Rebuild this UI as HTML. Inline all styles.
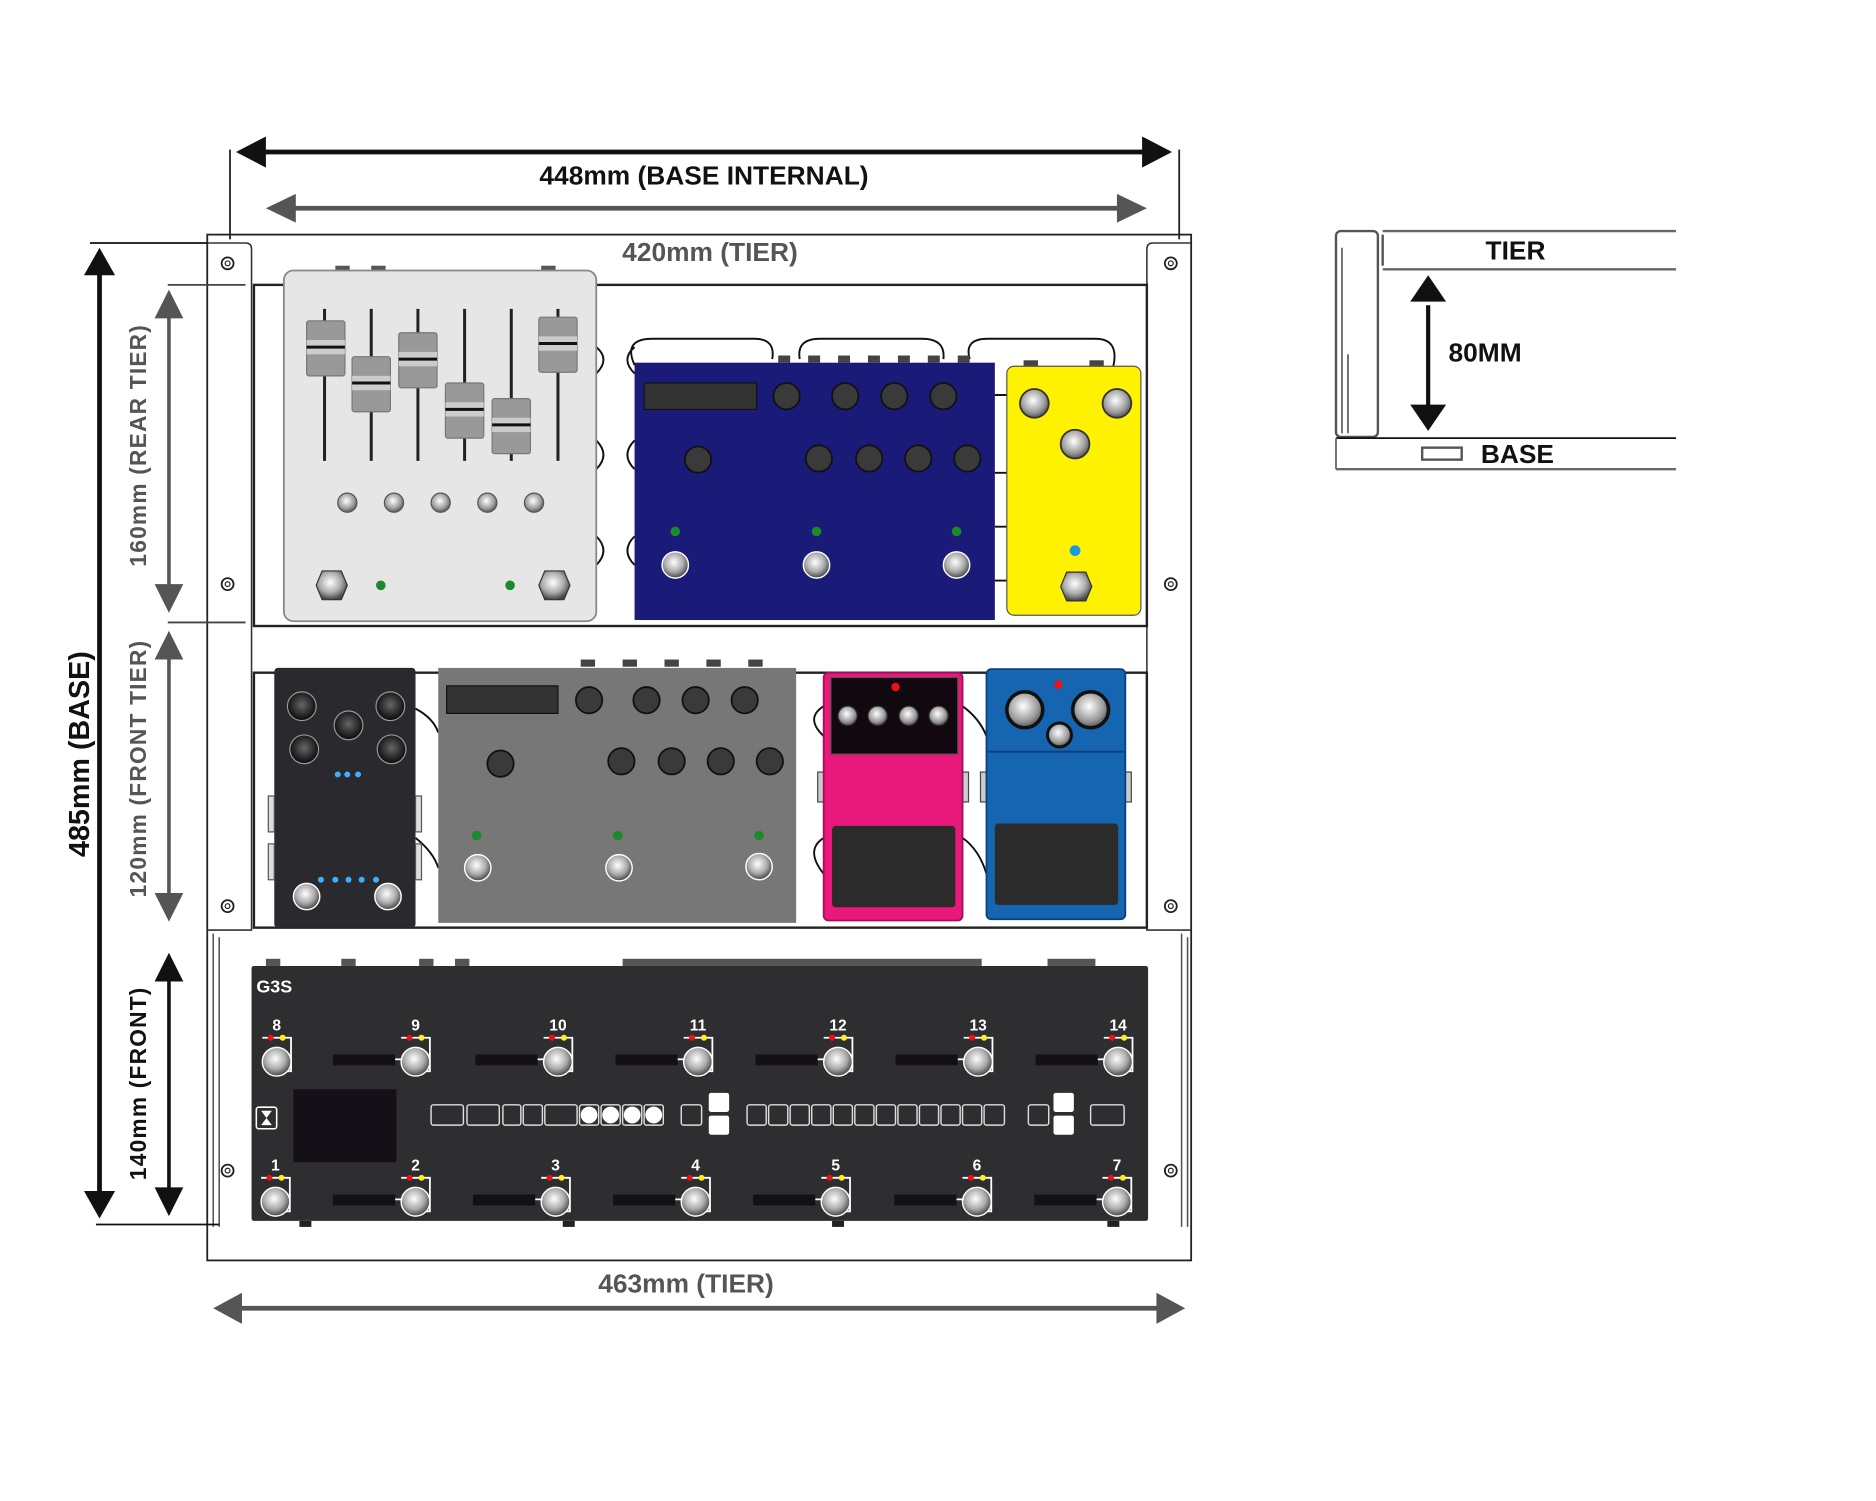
<!DOCTYPE html>
<html><head><meta charset="utf-8"><style>
html,body{margin:0;padding:0;background:#fff;}
svg{display:block;}
text{font-family:"Liberation Sans",sans-serif;font-weight:bold;}
</style></head><body>
<svg width="1876" height="1501" viewBox="0 0 1567 1254" xmlns="http://www.w3.org/2000/svg">
<defs>
<radialGradient id="fs" cx="0.45" cy="0.4" r="0.6"><stop offset="0" stop-color="#fff"/><stop offset="0.6" stop-color="#aaa"/><stop offset="1" stop-color="#444"/></radialGradient>
<radialGradient id="kb" cx="0.45" cy="0.4" r="0.6"><stop offset="0" stop-color="#fff"/><stop offset="0.7" stop-color="#999"/><stop offset="1" stop-color="#555"/></radialGradient>
<radialGradient id="bk" cx="0.5" cy="0.45" r="0.6"><stop offset="0" stop-color="#666"/><stop offset="1" stop-color="#000"/></radialGradient>
<g id="sw"><circle r="11" fill="url(#fs)" stroke="#fff" stroke-width="1.2"/></g>
<g id="hx"><polygon points="-8,-12 8,-12 13,0 8,12 -8,12 -13,0" fill="url(#fs)" stroke="#333" stroke-width="1"/></g>
<g id="dk"><circle r="11" fill="#3a3a3a" stroke="#111" stroke-width="1.5"/></g>
<g id="g3"><path d="M-12,-18 h24 v28 h-12" fill="none" stroke="#fff" stroke-width="1.5"/><circle cx="-5" cy="-18" r="2.5" fill="#e11"/><circle cx="5" cy="-18" r="2.5" fill="#fe2"/><circle cx="0" cy="2" r="12" fill="url(#fs)" stroke="#fff" stroke-width="1.2"/></g>
<g id="g3b"><rect x="-58" y="-4" width="52" height="9" fill="#151018"/><line x1="-6" y1="0" x2="0" y2="0" stroke="#fff" stroke-width="1.5"/></g>
<g id="scr"><circle r="5" fill="none" stroke="#222" stroke-width="1.5"/><circle r="2" fill="none" stroke="#222" stroke-width="1"/></g>
</defs>

<!-- top dimensions -->
<line x1="192" y1="125" x2="192" y2="200" stroke="#222" stroke-width="1.5"/>
<line x1="985" y1="125" x2="985" y2="200" stroke="#222" stroke-width="1.5"/>
<line x1="215" y1="127" x2="962" y2="127" stroke="#111" stroke-width="4"/>
<polygon points="197,127 222,114 222,140" fill="#111"/>
<polygon points="979,127 954,114 954,140" fill="#111"/>
<text x="588" y="154" font-size="22" text-anchor="middle" fill="#111">448mm (BASE INTERNAL)</text>
<line x1="240" y1="174" x2="940" y2="174" stroke="#555" stroke-width="4"/>
<polygon points="222,174 247,162 247,186" fill="#555"/>
<polygon points="958,174 933,162 933,186" fill="#555"/>

<!-- base frame -->
<rect x="173" y="196" width="822" height="857" fill="none" stroke="#222" stroke-width="1.5"/>
<text x="593" y="218" font-size="22" text-anchor="middle" fill="#555">420mm (TIER)</text>
<path d="M173,203 H205 Q210,203 210,208 V777 H173" fill="none" stroke="#333" stroke-width="1.3"/>
<path d="M995,203 H963 Q958,203 958,208 V777 H995" fill="none" stroke="#333" stroke-width="1.3"/>
<path d="M178,780 V1025 M183,783 V1025" stroke="#555" stroke-width="1.3"/>
<path d="M987,780 V1025 M992,783 V1025" stroke="#555" stroke-width="1.3"/>
<rect x="212" y="238" width="746" height="285" fill="none" stroke="#222" stroke-width="2"/>
<rect x="212" y="562" width="746" height="213" fill="none" stroke="#222" stroke-width="2"/>
<use href="#scr" x="190" y="220"/><use href="#scr" x="190" y="488"/><use href="#scr" x="190" y="757"/><use href="#scr" x="190" y="978"/>
<use href="#scr" x="978" y="220"/><use href="#scr" x="978" y="488"/><use href="#scr" x="978" y="757"/><use href="#scr" x="978" y="978"/>

<!-- left dimensions -->
<line x1="75" y1="203" x2="173" y2="203" stroke="#111" stroke-width="1.5"/>
<line x1="80" y1="1023" x2="183" y2="1023" stroke="#111" stroke-width="1.5"/>
<line x1="83" y1="225" x2="83" y2="1000" stroke="#111" stroke-width="4"/>
<polygon points="83,207 70,230 96,230" fill="#111"/>
<polygon points="83,1018 70,995 96,995" fill="#111"/>
<text transform="translate(74,630) rotate(-90)" font-size="24" text-anchor="middle" fill="#111">485mm (BASE)</text>
<line x1="140" y1="238" x2="205" y2="238" stroke="#444" stroke-width="1.5"/>
<line x1="140" y1="520" x2="205" y2="520" stroke="#444" stroke-width="1.5"/>
<line x1="141" y1="260" x2="141" y2="495" stroke="#555" stroke-width="3"/>
<polygon points="141,242 129,266 153,266" fill="#555"/><polygon points="141,512 129,488 153,488" fill="#555"/>
<text transform="translate(122,372) rotate(-90)" font-size="19" text-anchor="middle" fill="#555" letter-spacing="1">160mm (REAR TIER)</text>
<line x1="141" y1="545" x2="141" y2="752" stroke="#555" stroke-width="3"/>
<polygon points="141,527 129,551 153,551" fill="#555"/><polygon points="141,770 129,746 153,746" fill="#555"/>
<text transform="translate(122,642) rotate(-90)" font-size="19" text-anchor="middle" fill="#555" letter-spacing="1">120mm (FRONT TIER)</text>
<line x1="141" y1="815" x2="141" y2="997" stroke="#111" stroke-width="3"/>
<polygon points="141,796 129,820 153,820" fill="#111"/><polygon points="141,1016 129,992 153,992" fill="#111"/>
<text transform="translate(122,905) rotate(-90)" font-size="19" text-anchor="middle" fill="#111" letter-spacing="1">140mm (FRONT)</text>

<!-- bottom dimension -->
<text x="573" y="1080" font-size="22" text-anchor="middle" fill="#555">463mm (TIER)</text>
<line x1="198" y1="1093" x2="970" y2="1093" stroke="#555" stroke-width="4"/>
<polygon points="178,1093 202,1080 202,1106" fill="#555"/><polygon points="990,1093 966,1080 966,1106" fill="#555"/>

<!-- cables rear -->
<g fill="none" stroke="#111" stroke-width="1.6">
<path d="M530,305 Q520,283 545,283 H630 Q648,283 645,300"/>
<path d="M668,300 Q665,283 685,283 H770 Q790,283 788,300"/>
<path d="M810,300 Q805,283 825,283 H915 Q935,283 930,306"/>
<path d="M498,290 Q510,300 498,312 M498,368 Q510,380 498,392 M498,448 Q510,460 498,472"/>
<path d="M530,290 Q518,300 530,312 M530,368 Q518,380 530,392 M530,448 Q518,460 530,472"/>
<path d="M831,330 H841 M831,395 H841 M831,440 H841 M831,485 H841"/>
</g>
<!-- mixer pedal -->
<rect x="280" y="222" width="12" height="5" fill="#555"/><rect x="310" y="222" width="12" height="5" fill="#555"/><rect x="452" y="222" width="12" height="5" fill="#555"/>
<rect x="237" y="226" width="261" height="293" rx="8" fill="#e6e6e6" stroke="#888" stroke-width="1.5"/>
<g stroke="#222" stroke-width="2.5"><line x1="271" y1="258" x2="271" y2="385"/><line x1="310" y1="258" x2="310" y2="385"/><line x1="349" y1="258" x2="349" y2="385"/><line x1="388" y1="258" x2="388" y2="385"/><line x1="427" y1="258" x2="427" y2="385"/><line x1="466" y1="258" x2="466" y2="385"/></g>
<g fill="#999" stroke="#777">
<rect x="256" y="268" width="32" height="46" rx="2"/><rect x="294" y="298" width="32" height="46" rx="2"/><rect x="333" y="278" width="32" height="46" rx="2"/><rect x="372" y="320" width="32" height="46" rx="2"/><rect x="411" y="333" width="32" height="46" rx="2"/><rect x="450" y="265" width="32" height="46" rx="2"/>
</g>
<g fill="#ccc"><rect x="256" y="284" width="32" height="12"/><rect x="294" y="314" width="32" height="12"/><rect x="333" y="294" width="32" height="12"/><rect x="372" y="336" width="32" height="12"/><rect x="411" y="349" width="32" height="12"/><rect x="450" y="281" width="32" height="12"/></g>
<g stroke="#111" stroke-width="2.5"><line x1="256" y1="290" x2="288" y2="290"/><line x1="294" y1="320" x2="326" y2="320"/><line x1="333" y1="300" x2="365" y2="300"/><line x1="372" y1="342" x2="404" y2="342"/><line x1="411" y1="355" x2="443" y2="355"/><line x1="450" y1="287" x2="482" y2="287"/></g>
<g fill="url(#kb)" stroke="#555"><circle cx="290" cy="420" r="8"/><circle cx="329" cy="420" r="8"/><circle cx="368" cy="420" r="8"/><circle cx="407" cy="420" r="8"/><circle cx="446" cy="420" r="8"/></g>
<use href="#hx" x="277" y="489"/><use href="#hx" x="463" y="489"/>
<circle cx="318" cy="489" r="4" fill="#1a8a2a"/><circle cx="426" cy="489" r="4" fill="#1a8a2a"/>

<!-- blue pedal -->
<g fill="#444"><rect x="650" y="297" width="10" height="6"/><rect x="675" y="297" width="10" height="6"/><rect x="700" y="297" width="10" height="6"/><rect x="725" y="297" width="10" height="6"/><rect x="750" y="297" width="10" height="6"/><rect x="775" y="297" width="10" height="6"/><rect x="800" y="297" width="10" height="6"/></g>
<rect x="530" y="303" width="301" height="215" fill="#1a1a78"/>
<rect x="538" y="320" width="94" height="22" fill="#333" stroke="#111"/>
<use href="#dk" x="657" y="331"/><use href="#dk" x="706" y="331"/><use href="#dk" x="747" y="331"/><use href="#dk" x="788" y="331"/>
<use href="#dk" x="583" y="384"/><use href="#dk" x="684" y="383"/><use href="#dk" x="726" y="383"/><use href="#dk" x="767" y="383"/><use href="#dk" x="808" y="383"/>
<circle cx="564" cy="444" r="4" fill="#1a8a2a"/><circle cx="682" cy="444" r="4" fill="#1a8a2a"/><circle cx="799" cy="444" r="4" fill="#1a8a2a"/>
<use href="#sw" x="564" y="472"/><use href="#sw" x="682" y="472"/><use href="#sw" x="799" y="472"/>

<!-- yellow -->
<rect x="855" y="301" width="12" height="6" fill="#444"/><rect x="910" y="301" width="12" height="6" fill="#444"/>
<rect x="841" y="306" width="112" height="208" rx="6" fill="#fff200" stroke="#555"/>
<circle cx="864" cy="337" r="12" fill="url(#kb)" stroke="#333" stroke-width="1.5"/><circle cx="933" cy="337" r="12" fill="url(#kb)" stroke="#333" stroke-width="1.5"/><circle cx="898" cy="371" r="12" fill="url(#kb)" stroke="#333" stroke-width="1.5"/>
<circle cx="898" cy="460" r="4.5" fill="#1a9ae0"/>
<use href="#hx" x="899" y="490"/>

<!-- front tier cables -->
<g fill="none" stroke="#111" stroke-width="1.6">
<path d="M347,592 Q362,600 366,612 M347,700 Q362,712 366,725"/>
<path d="M688,590 Q672,600 688,615 M688,700 Q672,710 688,730"/>
<path d="M804,590 Q818,600 824,615 M804,700 Q818,710 824,730"/>
</g>
<!-- black pedal -->
<rect x="229" y="558" width="118" height="217" rx="3" fill="#2a2a2e"/>
<g fill="#ddd" stroke="#555"><rect x="224" y="665" width="5" height="30"/><rect x="224" y="705" width="5" height="30"/><rect x="347" y="665" width="5" height="30"/><rect x="347" y="705" width="5" height="30"/></g>
<g fill="url(#bk)" stroke="#999" stroke-width="1"><circle cx="252" cy="590" r="12"/><circle cx="291" cy="606" r="12"/><circle cx="326" cy="590" r="12"/><circle cx="254" cy="626" r="12"/><circle cx="327" cy="626" r="12"/></g>
<g fill="#3ab0ff"><circle cx="282" cy="647" r="2.5"/><circle cx="290" cy="647" r="2.5"/><circle cx="299" cy="647" r="2.5"/><circle cx="268" cy="735" r="2.5"/><circle cx="280" cy="735" r="2.5"/><circle cx="291" cy="735" r="2.5"/><circle cx="302" cy="735" r="2.5"/><circle cx="314" cy="735" r="2.5"/></g>
<use href="#sw" x="256" y="749"/><use href="#sw" x="324" y="749"/>

<!-- gray big -->
<g fill="#444"><rect x="485" y="551" width="12" height="6"/><rect x="520" y="551" width="12" height="6"/><rect x="555" y="551" width="12" height="6"/><rect x="590" y="551" width="12" height="6"/><rect x="625" y="551" width="12" height="6"/></g>
<rect x="366" y="558" width="299" height="213" fill="#777"/>
<rect x="373" y="573" width="93" height="23" fill="#333" stroke="#111"/>
<use href="#dk" x="492" y="585"/><use href="#dk" x="540" y="585"/><use href="#dk" x="581" y="585"/><use href="#dk" x="622" y="585"/>
<use href="#dk" x="418" y="638"/><use href="#dk" x="519" y="636"/><use href="#dk" x="561" y="636"/><use href="#dk" x="602" y="636"/><use href="#dk" x="643" y="636"/>
<circle cx="398" cy="698" r="4" fill="#1a8a2a"/><circle cx="516" cy="698" r="4" fill="#1a8a2a"/><circle cx="634" cy="698" r="4" fill="#1a8a2a"/>
<use href="#sw" x="399" y="725"/><use href="#sw" x="517" y="725"/><use href="#sw" x="634" y="724"/>

<!-- pink -->
<rect x="683" y="645" width="5" height="25" fill="#ccc" stroke="#444"/><rect x="804" y="645" width="5" height="25" fill="#ccc" stroke="#444"/>
<rect x="688" y="562" width="116" height="207" rx="4" fill="#e8197a" stroke="#a0105a" stroke-width="1.5"/>
<rect x="694" y="566" width="106" height="64" fill="#120810" stroke="#555"/>
<circle cx="748" cy="574" r="3.5" fill="#e11"/>
<g fill="url(#kb)" stroke="#333"><circle cx="708" cy="598" r="8"/><circle cx="733" cy="598" r="8"/><circle cx="759" cy="598" r="8"/><circle cx="784" cy="598" r="8"/></g>
<rect x="695" y="690" width="103" height="68" rx="3" fill="#2b2b2b"/>

<!-- blue boss -->
<rect x="819" y="645" width="5" height="25" fill="#ccc" stroke="#444"/><rect x="940" y="645" width="5" height="25" fill="#ccc" stroke="#444"/>
<rect x="824" y="559" width="116" height="209" rx="4" fill="#1565b0" stroke="#0b3f80" stroke-width="1.5"/>
<line x1="825" y1="628" x2="939" y2="628" stroke="#0b3f80" stroke-width="1.5"/>
<circle cx="884" cy="572" r="3.5" fill="#e11"/>
<circle cx="856" cy="593" r="15" fill="url(#kb)" stroke="#111" stroke-width="3"/><circle cx="911" cy="593" r="15" fill="url(#kb)" stroke="#111" stroke-width="3"/><circle cx="885" cy="614" r="10" fill="url(#kb)" stroke="#111" stroke-width="2.5"/>
<rect x="831" y="688" width="103" height="68" rx="3" fill="#2b2b2b"/>

<!-- G3S -->
<g fill="#555"><rect x="222" y="801" width="12" height="6"/><rect x="285" y="801" width="12" height="6"/><rect x="350" y="801" width="12" height="6"/><rect x="380" y="801" width="12" height="6"/><rect x="520" y="801" width="300" height="6"/><rect x="875" y="801" width="40" height="6"/></g>
<rect x="210" y="807" width="749" height="213" rx="2" fill="#2e2d30"/>
<text x="214" y="829" font-size="15" fill="#fff">G3S</text>
<g font-size="13" fill="#fff" text-anchor="middle">
<text x="231" y="861">8</text><text x="347" y="861">9</text><text x="466" y="861">10</text><text x="583" y="861">11</text><text x="700" y="861">12</text><text x="817" y="861">13</text><text x="934" y="861">14</text>
<text x="230" y="978">1</text><text x="347" y="978">2</text><text x="464" y="978">3</text><text x="581" y="978">4</text><text x="698" y="978">5</text><text x="816" y="978">6</text><text x="933" y="978">7</text>
</g>
<use href="#g3" x="231" y="885"/><use href="#g3" x="347" y="885"/><use href="#g3" x="466" y="885"/><use href="#g3" x="583" y="885"/><use href="#g3" x="700" y="885"/><use href="#g3" x="817" y="885"/><use href="#g3" x="934" y="885"/>
<use href="#g3b" x="336" y="885"/><use href="#g3b" x="455" y="885"/><use href="#g3b" x="572" y="885"/><use href="#g3b" x="689" y="885"/><use href="#g3b" x="806" y="885"/><use href="#g3b" x="923" y="885"/>
<use href="#g3" x="230" y="1002"/><use href="#g3" x="347" y="1002"/><use href="#g3" x="464" y="1002"/><use href="#g3" x="581" y="1002"/><use href="#g3" x="698" y="1002"/><use href="#g3" x="816" y="1002"/><use href="#g3" x="933" y="1002"/>
<use href="#g3b" x="336" y="1002"/><use href="#g3b" x="453" y="1002"/><use href="#g3b" x="570" y="1002"/><use href="#g3b" x="687" y="1002"/><use href="#g3b" x="805" y="1002"/><use href="#g3b" x="922" y="1002"/>
<rect x="245" y="910" width="86" height="61" fill="#151018"/>
<rect x="214" y="925" width="17" height="18" rx="2" fill="none" stroke="#fff" stroke-width="1.3"/>
<polygon points="218,928 227,928 222.5,934" fill="#fff"/><polygon points="218,940 227,940 222.5,934" fill="#fff"/>
<g fill="none" stroke="#ddd" stroke-width="1.2">
<rect x="360" y="923" width="27" height="17" rx="2"/><rect x="390" y="923" width="27" height="17" rx="2"/><rect x="420" y="923" width="15" height="17" rx="2"/><rect x="437" y="923" width="16" height="17" rx="2"/><rect x="455" y="923" width="27" height="17" rx="2"/>
<rect x="484" y="923" width="16" height="17" rx="2"/><rect x="502" y="923" width="16" height="17" rx="2"/><rect x="520" y="923" width="16" height="17" rx="2"/><rect x="538" y="923" width="16" height="17" rx="2"/>
<rect x="569" y="923" width="17" height="17" rx="2"/>
<rect x="624" y="923" width="16" height="17" rx="2"/><rect x="642" y="923" width="16" height="17" rx="2"/><rect x="660" y="923" width="16" height="17" rx="2"/><rect x="678" y="923" width="16" height="17" rx="2"/><rect x="696" y="923" width="16" height="17" rx="2"/><rect x="714" y="923" width="16" height="17" rx="2"/><rect x="732" y="923" width="16" height="17" rx="2"/><rect x="750" y="923" width="16" height="17" rx="2"/><rect x="768" y="923" width="16" height="17" rx="2"/><rect x="786" y="923" width="16" height="17" rx="2"/><rect x="804" y="923" width="16" height="17" rx="2"/><rect x="822" y="923" width="17" height="17" rx="2"/>
<rect x="859" y="923" width="17" height="17" rx="2"/><rect x="911" y="923" width="28" height="17" rx="2"/>
</g>
<g fill="#fff"><circle cx="492" cy="931.5" r="7"/><circle cx="510" cy="931.5" r="7"/><circle cx="528" cy="931.5" r="7"/><circle cx="546" cy="931.5" r="7"/>
<rect x="592" y="913" width="17" height="16" rx="2"/><rect x="592" y="932" width="17" height="16" rx="2"/><rect x="880" y="913" width="17" height="16" rx="2"/><rect x="880" y="932" width="17" height="16" rx="2"/></g>
<g fill="#222"><rect x="250" y="1020" width="10" height="5"/><rect x="470" y="1020" width="10" height="5"/><rect x="695" y="1020" width="10" height="5"/><rect x="925" y="1020" width="10" height="5"/></g>

<!-- right inset -->
<path d="M1155,193 H1400 M1155,225 H1400" stroke="#666" stroke-width="2"/>
<path d="M1155,196 V222" stroke="#555" stroke-width="2"/>
<rect x="1116" y="193" width="35" height="172" rx="4" fill="none" stroke="#555" stroke-width="2"/>
<path d="M1121,207 V362 M1126,296 V362" stroke="#666" stroke-width="1.5"/>
<text x="1266" y="217" font-size="22" text-anchor="middle" fill="#111">TIER</text>
<line x1="1193" y1="255" x2="1193" y2="340" stroke="#111" stroke-width="3.5"/>
<polygon points="1193,230 1178,252 1208,252" fill="#111"/><polygon points="1193,360 1178,338 1208,338" fill="#111"/>
<text x="1210" y="302" font-size="22" fill="#111">80MM</text>
<path d="M1116,366 H1400" stroke="#111" stroke-width="1.5"/>
<path d="M1116,392 H1400" stroke="#666" stroke-width="2"/>
<path d="M1116,366 V392" stroke="#666" stroke-width="1.5"/>
<rect x="1188" y="374" width="33" height="10" fill="none" stroke="#555" stroke-width="2"/>
<text x="1237" y="387" font-size="22" fill="#111">BASE</text>
</svg>
</body></html>
